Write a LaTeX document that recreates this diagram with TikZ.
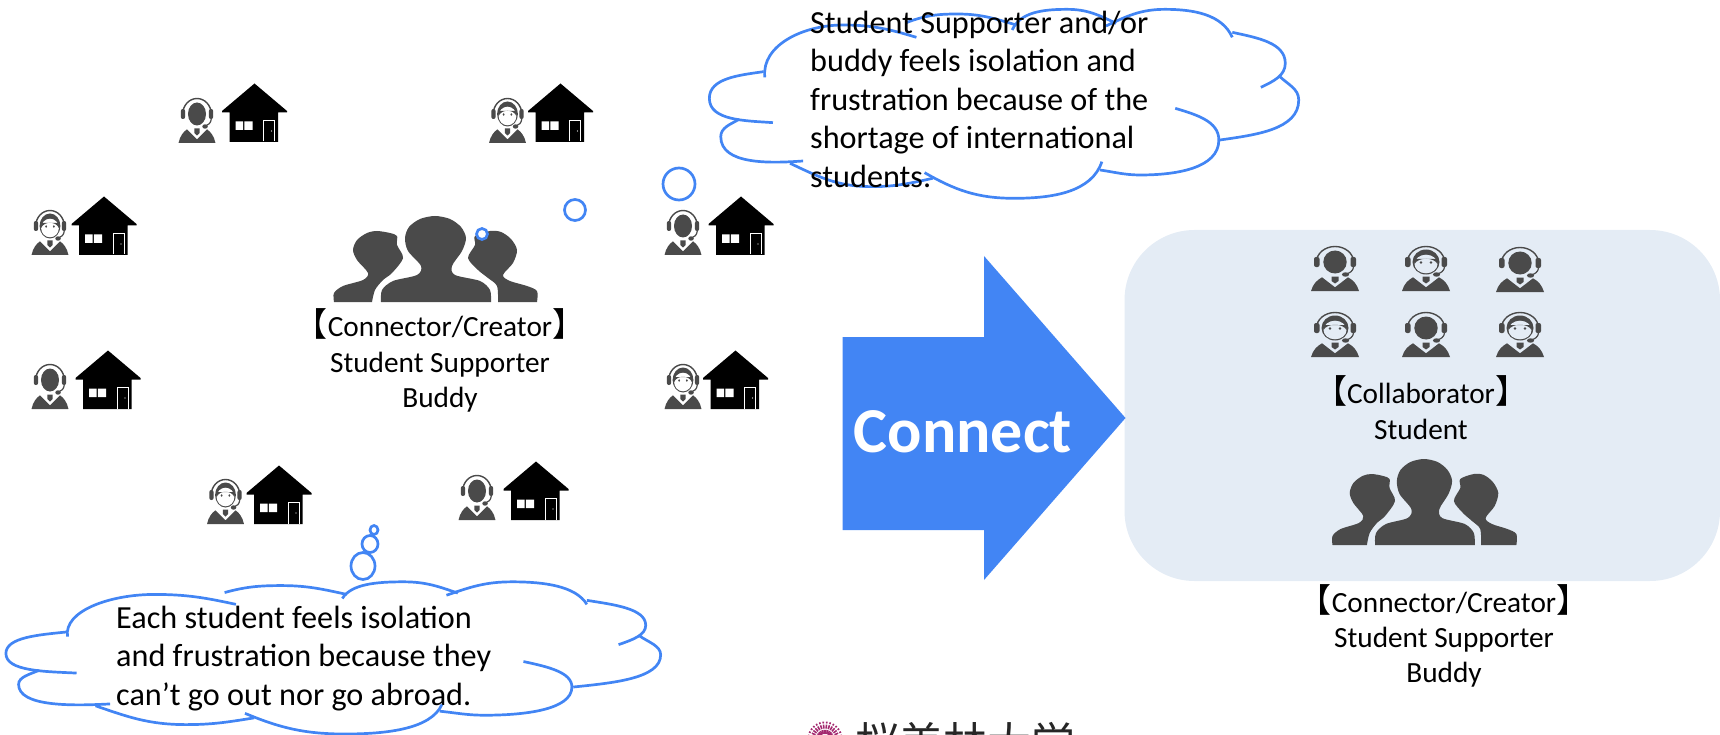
\documentclass[tikz,border=0pt]{standalone}
\usepackage{fontspec}
\setmainfont{Carlito}
\newfontfamily\cjk{Noto Sans CJK JP}
\definecolor{cloudblue}{HTML}{4285F4}
\definecolor{iconGray}{HTML}{4A4A4A}
\definecolor{panelBlue}{HTML}{E4ECF5}
\definecolor{logoRed}{HTML}{A3296F}
\newcommand{\lb}{{\cjk\fontsize{33}{35}\selectfont 【}}
\newcommand{\rb}{{\cjk\fontsize{33}{35}\selectfont 】}}
\newcommand{\agentbody}{
    \fill[iconGray] (-24,0) .. controls (-22,-7) and (-18,-11) .. (-13,-13.7) -- (0,-3.7) -- (13,-13.7) .. controls (18,-11) and (22,-7) .. (24,0) -- cycle;
    \fill[iconGray] (-3.5,-14.5) -- (3.5,-14.5) -- (3.5,-10) -- (0,-7.5) -- (-3.5,-10) -- cycle;
    \draw[iconGray,line width=1.4pt] (-18.5,-29) arc[start angle=180,end angle=360,x radius=18.5,y radius=15.5];
    \fill[iconGray,rounded corners=2pt] (-21,-34) rectangle (-15.5,-24);
    \fill[iconGray,rounded corners=2pt] (15.5,-34) rectangle (21,-24);
    \draw[iconGray,line width=1.2pt] (18.5,-24) .. controls (18,-20) and (15,-18) .. (11,-17);
    \fill[iconGray] (10.5,-16.5) ellipse[x radius=3.6,y radius=2.2];
}
\tikzset{
  bubble/.style={draw=cloudblue,line width=2.7pt},
  cloudtext/.style={font=\fontsize{32.2}{38.4}\selectfont,align=left,anchor=north west,inner sep=0pt},
  rolelabel/.style={font=\fontsize{29.3}{35.3}\selectfont,align=center,inner sep=0pt},
  agentdark/.pic={
    \agentbody
    \fill[iconGray] (0,-29) ellipse[x radius=11.7,y radius=11.5];
  },
  agentface/.pic={
    \agentbody
    \fill[iconGray] (0,-29) ellipse[x radius=13.5,y radius=12.5];
    \fill[#1] (0,-27) ellipse[x radius=11.5,y radius=9.3];
    \fill[iconGray] (-11.5,-27) .. controls (-8,-34) and (8,-34) .. (11.5,-27) -- (11.5,-32) -- (-11.5,-32) -- cycle;
    \fill[iconGray] (-5,-28.5) circle[radius=1.3] (5,-28.5) circle[radius=1.3];
  },
  housepic/.pic={
    \fill[black] (0,-58.5) -- (32.5,-31) -- (32.5,-29.5) -- (23.5,-29.5) -- (23.5,0) -- (-25,0) -- (-25,-29.5) -- (-32.5,-29.5) -- (-32.5,-31) -- cycle;
    \fill[white] (-19,-20.5) rectangle (-11.4,-12) (-10.2,-20.5) rectangle (-2,-12);
    \draw[white,line width=.8pt] (9,-0.5) -- (9,-21.5) -- (20,-21.5) -- (20,-0.5);
    \fill[white] (17,-11) circle[radius=.7];
  },
  grouppic/.pic={
    \fill[iconGray] plot[smooth] coordinates {(-54,0) (-53,-12) (-42,-21) (-18,-27) (-14,-36) (-27,-51) (-30,-64) (-26,-75) (-15,-83) (0,-86) (15,-83) (26,-75) (31,-64) (27,-51) (17,-36) (20,-27) (45,-21) (55,-12) (56,0)} -- cycle;
    \fill[iconGray] plot[smooth] coordinates {(-101,0) (-101,-9) (-92,-16) (-72,-22) (-67,-29) (-78,-42) (-82,-52) (-78,-62) (-68,-69) (-58,-71) (-45,-69) (-38,-66) (-38,-57) (-32,-44) (-43,-29) (-52,-22) (-60,-12) (-63,0)} -- cycle;
    \fill[iconGray] plot[smooth] coordinates {(63,0) (62,-16) (53,-24) (43,-32) (33,-44) (40,-57) (40,-66) (55,-71) (66,-70) (76,-63) (82,-52) (78,-39) (68,-27) (75,-21) (92,-16) (102,-11) (102,0)} -- cycle;
  },
  cloudpic/.pic={
    \draw[bubble] (228,368) to[out=175,in=270] (72,295) to[out=90,in=190] (205,215);
    \draw[bubble] (208,232) to[out=95,in=180] (400,75) to[out=0,in=160] (580,112);
    \draw[bubble] (555,68) to[out=25,in=180] (680,42) to[out=0,in=160] (825,75);
    \draw[bubble] (815,90) to[out=70,in=180] (950,28) to[out=0,in=150] (1070,70);
    \draw[bubble] (1045,78) to[out=30,in=180] (1190,28) to[out=0,in=110] (1355,112);
    \draw[bubble] (1355,97) to[out=-15,in=90] (1485,190) to[out=270,in=30] (1425,262);
    \draw[bubble] (1470,228) to[out=-50,in=90] (1518,300) to[out=270,in=10] (1325,420);
    \draw[bubble] (1215,325) to[out=-20,in=90] (1322,420) to[out=270,in=0] (1130,525) to[out=180,in=-10] (1030,510);
    \draw[bubble] (1035,485) to[out=255,in=0] (820,595) to[out=180,in=-35] (600,518);
    \draw[bubble] (620,535) to[out=195,in=0] (470,560) to[out=180,in=-30] (270,490);
    \draw[bubble] (302,483) to[out=185,in=270] (100,410) to[out=90,in=215] (145,358);
  }
}
\begin{document}
\begin{tikzpicture}[x=1pt,y=-1pt]
  \useasboundingbox (0,0) rectangle (1720,735);
  % panel and arrow
  \fill[panelBlue,rounded corners=70pt] (1124.5,230) rectangle (1720,581);
  \fill[cloudblue] (842.5,337) -- (984,337) -- (984,256) -- (1125.5,418) -- (984,580) -- (984,530) -- (842.5,530) -- cycle;
  \node[font=\fontsize{64}{64}\selectfont\bfseries,text=white,inner sep=0pt] (connect) at (963,432) {Connect};
  % homes
  \foreach \hx/\hy in {254.5/142,560.5/142,104/255,741/255,108/409,735.5/409,279/524,536/520}
    \pic at (\hx,\hy) {housepic};
  \foreach \ax/\ay in {197/143,683/255,50/409,477/520}
    \pic[xscale=.77] at (\ax,\ay) {agentdark};
  \foreach \ax/\ay in {507.5/143,50/255,683/409,225.5/524}
    \pic[xscale=.77] at (\ax,\ay) {agentface=white};
  % panel people
  \foreach \ax/\ay in {1335/291,1520/292,1426/357}
    \pic at (\ax,\ay) {agentdark};
  \foreach \ax/\ay in {1426/291,1335/357,1520/357}
    \pic at (\ax,\ay) {agentface=panelBlue};
  \pic at (435,302) {grouppic};
  \pic[xscale=.906] at (1424,545) {grouppic};
  % clouds
  \pic[xscale=.4076,yscale=.3333] at (680,0) {cloudpic};
  \pic[xscale=.4528,yscale=.2684] at (-26.7,574.3) {cloudpic};
  \foreach \cx/\cy/\crx/\cry in {679/184/16/16,575/210/10.5/10.5,482/234/5.5/5.5,363/566/12/13.5,370/544/8/8.5,374/530/4/4.5}
    \draw[bubble,fill=white] (\cx,\cy) ellipse[x radius=\crx,y radius=\cry];
  \node[cloudtext] (worry) at (810,11) {Student Supporter and/or\\buddy feels isolation and\\frustration because of the\\shortage of international\\students.};
  \node[cloudtext] (lonely) at (116,606) {Each student feels isolation\\and frustration because they\\can’t go out nor go abroad.};
  % labels
  \node[rolelabel] (hub) at (440,360.5) {\lb Connector/Creator\rb\\Student Supporter\\Buddy};
  \node[rolelabel] (collab) at (1421,407.5) {\lb Collaborator\rb\\Student};
  \node[rolelabel] (hubright) at (1444,636) {\lb Connector/Creator\rb\\Student Supporter\\Buddy};
  % logo, cut by the page edge
  \begin{scope}
    \clip (780,700) rectangle (1100,735);
    \foreach \ang in {0,12,...,348}
      \draw[logoRed,line width=1.6pt,dash pattern=on 4pt off 1.2pt] (825,739) -- ++(\ang:17.5);
    \node[font=\cjk\fontsize{44}{44}\selectfont,anchor=north west,inner sep=0pt,text=black!85] (logo) at (855,722) {桜美林大学};
  \end{scope}
\end{tikzpicture}
\end{document}
